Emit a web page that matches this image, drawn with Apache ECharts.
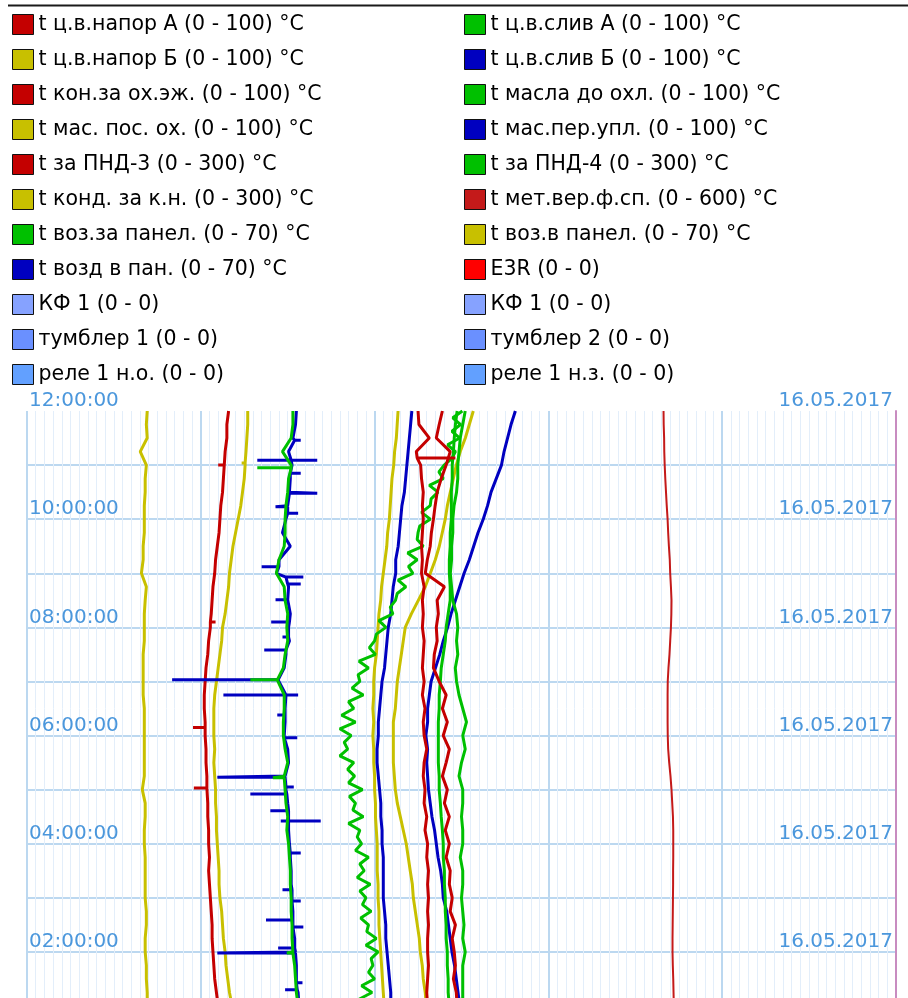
<!DOCTYPE html>
<html>
<head>
<meta charset="utf-8">
<script src="https://cdn.jsdelivr.net/npm/echarts@6/dist/echarts.min.js"></script>
<style>
  html, body { margin: 0; padding: 0; background: #fff; overflow: hidden; }
  #main { width: 908px; height: 1010px; }
</style>
</head>
<body>
<div id="main"></div>
<script>
// time grid, hours of 16.05.2017 (top = 12:00)
const hoursQ = [12, 11.75, 11.5, 11.25, 11, 10.75, 10.5, 10.25, 10, 9.75, 9.5, 9.25, 9, 8.75, 8.5, 8.25,
  8, 7.75, 7.5, 7.25, 7, 6.75, 6.5, 6.25, 6, 5.75, 5.5, 5.25, 5, 4.75, 4.5, 4.25, 4, 3.75, 3.5, 3.25,
  3, 2.75, 2.5, 2.25, 2, 1.75, 1.5, 1.25, 1];
const hoursE = [12, 11.875, 11.75, 11.625, 11.5, 11.375, 11.25, 11.125, 11, 10.875, 10.75, 10.625, 10.5,
  10.375, 10.25, 10.125, 10, 9.875, 9.75, 9.625, 9.5, 9.375, 9.25, 9.125, 9, 8.875, 8.75, 8.625, 8.5,
  8.375, 8.25, 8.125, 8, 7.875, 7.75, 7.625, 7.5, 7.375, 7.25, 7.125, 7, 6.875, 6.75, 6.625, 6.5, 6.375,
  6.25, 6.125, 6, 5.875, 5.75, 5.625, 5.5, 5.375, 5.25, 5.125, 5, 4.875, 4.75, 4.625, 4.5, 4.375, 4.25,
  4.125, 4, 3.875, 3.75, 3.625, 3.5, 3.375, 3.25, 3.125, 3, 2.875, 2.75, 2.625, 2.5, 2.375, 2.25, 2.125,
  2, 1.875, 1.75, 1.625, 1.5, 1.375, 1.25, 1.125, 1];
const dateLabel = '16.05.2017';

// legend columns
const legendLeft = ['t ц.в.напор А (0 - 100) °С', 't ц.в.напор Б (0 - 100) °С', 't кон.за ох.эж. (0 - 100) °С',
  't мас. пос. ох. (0 - 100) °С', 't за ПНД-3 (0 - 300) °С', 't конд. за к.н. (0 - 300) °С',
  't воз.за панел. (0 - 70) °С', 't возд в пан. (0 - 70) °С', 'КФ 1 (0 - 0)', 'тумблер 1 (0 - 0)', 'реле 1 н.о. (0 - 0)'];
const legendRight = ['t ц.в.слив А (0 - 100) °С', 't ц.в.слив Б (0 - 100) °С', 't масла до охл. (0 - 100) °С',
  't мас.пер.упл. (0 - 100) °С', 't за ПНД-4 (0 - 300) °С', 't мет.вер.ф.сп. (0 - 600) °С',
  't воз.в панел. (0 - 70) °С', 'E3R (0 - 0)', 'КФ 1 (0 - 0)', 'тумблер 2 (0 - 0)', 'реле 1 н.з. (0 - 0)'];

// values, °C, sampled every 15 min (hoursQ) unless noted
const napA = [23.2, 23.0, 23.0, 22.8, 22.7, 22.6, 22.5, 22.3, 22.2, 22.1, 21.9, 21.7, 21.6, 21.4, 21.3, 21.2,
  21.1, 20.9, 20.8, 20.6, 20.5, 20.4, 20.4, 20.5, 20.5, 20.6, 20.6, 20.7, 20.7, 20.8, 20.8, 20.9, 20.9, 21.0,
  20.9, 21.0, 21.1, 21.2, 21.3, 21.3, 21.4, 21.5, 21.6, 21.8, 22.0];
const napB = [25.4, 25.4, 25.3, 25.2, 25.1, 25.0, 24.8, 24.6, 24.3, 24.0, 23.7, 23.5, 23.3, 23.2, 23.0, 22.8,
  22.5, 22.4, 22.2, 22.0, 21.8, 21.6, 21.5, 21.5, 21.5, 21.6, 21.5, 21.6, 21.7, 21.7, 21.8, 21.8, 21.9, 22.0,
  22.1, 22.1, 22.2, 22.4, 22.5, 22.6, 22.8, 22.9, 23.1, 23.3, 23.6];
const konOh = [45.0, 45.1, 46.3, 44.8, 45.3, 45.4, 45.6, 45.5, 45.6, 45.5, 45.4, 45.5, 45.4, 45.7, 45.5, 45.6,
  45.5, 45.7, 45.6, 45.5, 45.7, 45.5, 45.8, 45.6, 45.7, 46.0, 45.7, 45.6, 45.8, 45.7, 46.0, 45.8, 46.1, 46.0,
  46.2, 46.1, 46.2, 46.1, 46.2, 46.1, 46.1, 46.2, 46.1, 46.0, 46.1];
const masPos = [42.7, 42.6, 42.5, 42.3, 42.2, 42.0, 41.9, 41.8, 41.7, 41.5, 41.4, 41.2, 41.0, 40.8, 40.7, 40.5,
  40.4, 40.3, 40.2, 40.0, 39.9, 39.9, 39.8, 39.9, 39.8, 39.9, 39.9, 40.0, 40.0, 40.1, 40.1, 40.2, 40.3, 40.3,
  40.3, 40.4, 40.4, 40.5, 40.5, 40.6, 40.7, 40.8, 40.9, 41.0, 41.1];
const pnd3 = [143.4, 142.3, 141.3, 146.1, 144.7, 143.0, 141.6, 140.9, 140.3, 139.6, 139.2, 138.2, 137.5, 144.1,
  141.6, 142.0, 141.3, 141.6, 140.6, 140.3, 142.3, 144.7, 143.4, 145.1, 143.7, 145.8, 144.7, 143.4, 145.1,
  144.1, 145.8, 144.4, 145.8, 144.7, 146.1, 145.8, 146.8, 146.1, 147.9, 146.8, 147.5, 147.9, 147.2, 148.2, 148.5];
const kondKn = [41.5, 41.2, 41.5, 39.1, 41.2, 40.8, 40.8, 40.5, 40.5, 40.5, 40.1, 40.1, 39.5, 41.2, 40.8, 40.5,
  40.5, 40.5, 40.1, 40.1, 40.1, 40.1, 40.5, 40.5, 40.5, 40.5, 40.5, 40.5, 39.8, 40.8, 40.8, 40.5, 40.5, 40.8,
  40.8, 40.8, 40.8, 41.2, 41.2, 40.8, 40.8, 41.2, 41.2, 41.5, 41.5];
const vozZaPan = [35.3, 35.1, 34.9, 34.8, 34.7, 34.7, 34.6, 34.4, 34.3, 34.3, 34.2, 34.2, 34.1, 34.2, 34.3, 34.6,
  34.7, 34.6, 34.7, 34.5, 34.6, 34.8, 35.1, 35.4, 35.1, 35.3, 35.0, 34.8, 35.1, 35.1, 35.0, 35.1, 35.1, 34.9,
  35.1, 35.1, 35.0, 35.1, 35.2, 35.1, 35.3, 35.1, 35.1, 35.1, 35.1];
const vozdVPan = [31.0, 30.9, 30.8, 30.7, 30.6, 30.5, 30.4, 30.2, 30.1, 30.0, 29.9, 29.7, 29.7, 29.5, 29.4, 29.3,
  29.1, 29.0, 28.9, 28.8, 28.6, 28.5, 28.4, 28.3, 28.3, 28.2, 28.2, 28.3, 28.4, 28.5, 28.5, 28.6, 28.6, 28.7,
  28.7, 28.7, 28.7, 28.8, 28.9, 28.9, 29.0, 29.1, 29.2, 29.3, 29.3];
const slivA = [30.6, 30.6, 30.4, 29.4, 30.4, 30.1, 30.0, 29.8, 29.7, 29.7, 29.6, 29.0, 28.7, 29.6, 29.7, 30.0,
  29.9, 30.0, 29.7, 29.5, 28.8, 29.6, 29.6, 29.5, 29.5, 29.7, 30.0, 29.6, 29.7, 29.8, 30.0, 29.9, 30.1, 30.2,
  30.3, 30.3, 30.4, 30.4, 30.5, 30.5, 30.6, 30.8, 30.9, 31.0, 31.2];
const slivB = [31.0, 30.9, 30.6, 30.1, 30.5, 30.3, 30.2, 30.0, 29.8, 29.4, 30.3, 29.0, 28.7, 30.1, 30.0, 30.3,
  30.1, 30.2, 29.8, 29.6, 28.9, 29.8, 29.7, 29.7, 29.6, 30.0, 30.1, 29.7, 29.8, 30.0, 30.1, 30.1, 30.2, 30.3,
  30.4, 30.4, 30.5, 30.6, 30.6, 30.8, 30.9, 31.0, 31.0, 31.2, 31.3];
// sampled every 7.5 min (hoursE)
const maslaDoOhl = [50.1, 49.0, 49.9, 48.9, 49.8, 48.4, 49.3, 48.9, 48.0, 47.4, 47.9, 46.3, 47.3, 46.5, 46.4, 45.4,
  46.4, 45.2, 45.0, 44.9, 45.6, 43.8, 44.9, 43.9, 44.4, 42.7, 43.6, 42.6, 42.4, 41.8, 42.1, 40.5,
  41.3, 40.2, 40.0, 39.4, 40.1, 38.2, 39.3, 38.1, 38.3, 37.4, 38.7, 37.0, 37.6, 36.2, 37.8, 36.0,
  37.3, 36.5, 36.9, 36.0, 37.6, 36.9, 37.7, 37.0, 38.6, 37.1, 37.8, 37.5, 38.7, 37.0, 38.3, 38.0,
  38.5, 37.8, 39.3, 38.3, 38.8, 38.0, 39.5, 38.3, 39.0, 38.6, 39.6, 38.4, 39.3, 39.1, 40.2, 39.0,
  40.4, 39.6, 39.8, 39.3, 40.0, 38.5, 39.7, 38.2, 39.0];
const masPerUpl = [56.2, 55.7, 55.3, 54.9, 54.6, 54.0, 53.4, 53.0, 52.5, 51.9, 51.4, 50.9, 50.3, 49.8, 49.3, 48.8,
  48.4, 47.9, 47.5, 47.0, 46.5, 46.3, 46.1, 46.1, 45.9, 46.1, 46.0, 46.1, 46.2, 46.4, 46.6, 46.9, 47.1, 47.3,
  47.6, 47.8, 47.9, 48.3, 48.5, 48.7, 48.9, 49.2, 49.4, 49.6, 49.8];
const pnd4 = [148.5, 147.9, 147.5, 147.2, 146.8, 146.8, 146.5, 146.5, 146.5, 146.1, 146.1, 145.8, 145.8, 146.1,
  146.1, 145.4, 144.7, 144.4, 143.7, 143.0, 142.7, 142.3, 142.3, 142.0, 142.0, 142.0, 142.0, 142.3, 142.3,
  142.7, 143.0, 143.4, 143.7, 143.7, 144.1, 144.1, 144.4, 144.4, 144.7, 144.7, 145.1, 145.1, 145.4, 145.4, 145.8];
const metVer = [439.5, 439.6, 439.9, 440.0, 440.3, 440.7, 441.2, 441.7, 442.3, 442.7, 443.2, 443.8, 444.1, 444.6,
  445.0, 444.9, 444.6, 444.1, 443.6, 442.9, 442.4, 442.3, 442.3, 442.3, 442.4, 442.7, 443.4, 444.3, 445.0,
  445.5, 446.0, 446.2, 446.2, 446.2, 446.1, 446.1, 446.0, 445.9, 445.8, 445.7, 445.7, 445.9, 446.2, 446.4, 446.6];
const vozVPan = [35.95, 35.63, 35.31, 34.90, 34.58, 34.34, 34.10, 33.86, 33.69, 33.45, 33.21, 32.89, 32.49, 32.08,
  31.52, 30.96, 30.47, 30.31, 30.15, 29.99, 29.83, 29.75, 29.67, 29.51, 29.51, 29.51, 29.51, 29.59, 29.67,
  29.83, 30.07, 30.31, 30.55, 30.71, 30.87, 31.04, 31.12, 31.28, 31.44, 31.60, 31.68, 31.84, 31.92, 32.08, 32.16];

// short spikes: [hour, value before, spike value]
const napASpikes = [[11.0, 22.7, 22.0], [8.1, 21.1, 21.7], [6.15, 20.5, 19.1], [5.03, 20.7, 19.2]];
const napBSpikes = [[11.04, 25.1, 24.7]];
const konOhSpikes = [[11.13, 44.9, 49.3]];
const slivASpikes = [[10.95, 30.4, 26.5], [7.03, 28.8, 25.7], [5.22, 29.6, 28.3], [1.98, 30.6, 29.9]];
const slivBSpikes = [[11.46, 30.8, 31.5], [11.09, 30.4, 26.5], [11.09, 30.4, 33.4], [10.85, 30.3, 31.5],
  [10.48, 30.2, 33.4], [10.23, 30.0, 28.6], [10.11, 30.0, 31.2], [9.12, 29.0, 27.0], [8.93, 29.8, 31.8],
  [8.8, 30.0, 31.5], [8.51, 30.0, 28.6], [8.1, 30.2, 28.1], [7.82, 30.1, 29.4], [7.58, 29.8, 27.3],
  [7.03, 28.9, 16.7], [6.75, 29.8, 22.6], [6.75, 29.8, 31.2], [6.38, 29.7, 28.8], [5.96, 29.6, 31.1],
  [5.23, 29.7, 21.9], [5.05, 29.8, 30.7], [4.92, 29.9, 25.7], [4.61, 30.1, 28.0], [4.42, 30.1, 33.8],
  [4.42, 30.1, 29.2], [3.83, 30.3, 31.5], [3.15, 30.5, 29.4], [2.94, 30.5, 31.5], [2.59, 30.6, 27.5],
  [2.46, 30.6, 31.8], [2.07, 30.8, 28.9], [1.98, 30.9, 21.9], [1.43, 31.0, 31.7], [1.3, 31.1, 29.7]];

const RED = '#c40000', YEL = '#c8c000', GRN = '#00c000', BLU = '#0000c0';

function track(hours, vals, spikes) {
  const pts = hours.map((h, i) => [vals[i], h]);
  (spikes || []).forEach(s => pts.push([s[1], s[0]], [s[2], s[0]], [s[1], s[0]]));
  return pts.sort((a, b) => b[1] - a[1]);
}
// axis index by scale range: 0 -> 0..100, 1 -> 0..300, 2 -> 0..600, 3 -> 0..70
function line(name, color, axis, data, width) {
  return {
    name: name, type: 'line', xAxisIndex: axis, yAxisIndex: 0, color: color,
    showSymbol: false, symbol: 'none', data: data,
    lineStyle: { color: color, width: width || 3 }
  };
}
function empty(name, color) {
  return { name: name, type: 'line', color: color, data: [], showSymbol: false, symbol: 'none' };
}

function hhmm(v) {
  return (v < 10 ? '0' : '') + v + ':00:00';
}

let myChart = echarts.init(document.getElementById('main'));

const legendBase = {
  orient: 'vertical',
  top: 14,
  padding: 0,
  icon: 'rect',
  itemWidth: 21,
  itemHeight: 20,
  itemGap: 14,
  selectedMode: false,
  itemStyle: { borderColor: '#111', borderWidth: 1 },
  textStyle: { fontFamily: 'DejaVu Sans', fontSize: 20.5, color: '#000' }
};

myChart.setOption({
  animation: false,
  backgroundColor: '#fff',
  textStyle: { fontFamily: 'DejaVu Sans' },
  graphic: [{
    type: 'line',
    shape: { x1: 8, y1: 5.5, x2: 908, y2: 5.5 },
    style: { stroke: '#1a1a1a', lineWidth: 2 }
  }],
  legend: [
    Object.assign({}, legendBase, { left: 12, data: legendLeft }),
    Object.assign({}, legendBase, { left: 464, data: legendRight })
  ],
  grid: { left: 27, right: 12, top: 411, bottom: 4 },
  xAxis: [
    {
      type: 'value', min: 0, max: 100, interval: 20,
      axisLine: { show: false }, axisTick: { show: false }, axisLabel: { show: false },
      splitLine: { show: true, lineStyle: { color: '#bcd8f0', width: 2 } },
      minorTick: { show: false, splitNumber: 20 },
      minorSplitLine: { show: true, lineStyle: { color: '#e3eefa', width: 1 } }
    },
    { type: 'value', min: 0, max: 300, show: false },
    { type: 'value', min: 0, max: 600, show: false },
    { type: 'value', min: 0, max: 70, show: false }
  ],
  yAxis: [
    {
      type: 'value', min: 1, max: 12, interval: 1, position: 'left',
      axisLine: { show: false, onZero: false }, axisTick: { show: false },
      splitLine: { show: true, showMaxLine: false, lineStyle: { color: '#bcd8f0', width: 2 } },
      axisLabel: {
        inside: true, margin: 2, verticalAlign: 'bottom',
        color: '#4b97dc', fontSize: 20, fontFamily: 'DejaVu Sans',
        formatter: v => (v % 2 === 0 ? hhmm(v) : '')
      }
    },
    {
      type: 'value', min: 1, max: 12, interval: 1, position: 'right',
      axisLine: { show: true, onZero: false, lineStyle: { color: '#c88cc0', width: 2 } },
      axisTick: { show: false }, splitLine: { show: false },
      axisLabel: {
        inside: true, margin: 3, verticalAlign: 'bottom',
        color: '#4b97dc', fontSize: 20, fontFamily: 'DejaVu Sans',
        formatter: v => (v % 2 === 0 ? dateLabel : '')
      }
    }
  ],
  series: [
    line('t мет.вер.ф.сп. (0 - 600) °С', '#c41a1a', 2, track(hoursQ, metVer), 2),
    line('t конд. за к.н. (0 - 300) °С', YEL, 1, track(hoursQ, kondKn)),
    line('t ц.в.напор Б (0 - 100) °С', YEL, 0, track(hoursQ, napB, napBSpikes)),
    line('t ц.в.напор А (0 - 100) °С', RED, 0, track(hoursQ, napA, napASpikes)),
    line('t мас. пос. ох. (0 - 100) °С', YEL, 0, track(hoursQ, masPos)),
    line('t воз.в панел. (0 - 70) °С', YEL, 3, track(hoursQ, vozVPan)),
    line('t возд в пан. (0 - 70) °С', BLU, 3, track(hoursQ, vozdVPan)),
    line('t масла до охл. (0 - 100) °С', GRN, 0, track(hoursE, maslaDoOhl)),
    line('t мас.пер.упл. (0 - 100) °С', BLU, 0, track(hoursQ, masPerUpl)),
    line('t за ПНД-4 (0 - 300) °С', GRN, 1, track(hoursQ, pnd4)),
    line('t воз.за панел. (0 - 70) °С', GRN, 3, track(hoursQ, vozZaPan)),
    line('t кон.за ох.эж. (0 - 100) °С', RED, 0, track(hoursQ, konOh, konOhSpikes)),
    line('t за ПНД-3 (0 - 300) °С', RED, 1, track(hoursQ, pnd3)),
    line('t ц.в.слив Б (0 - 100) °С', BLU, 0, track(hoursQ, slivB, slivBSpikes)),
    line('t ц.в.слив А (0 - 100) °С', GRN, 0, track(hoursQ, slivA, slivASpikes)),
    empty('КФ 1 (0 - 0)', '#86a2ff'),
    empty('тумблер 1 (0 - 0)', '#6a90ff'),
    empty('реле 1 н.о. (0 - 0)', '#62a0ff'),
    empty('E3R (0 - 0)', '#ff0000'),
    empty('тумблер 2 (0 - 0)', '#6a90ff'),
    empty('реле 1 н.з. (0 - 0)', '#62a0ff')
  ]
});
</script>
</body>
</html>
